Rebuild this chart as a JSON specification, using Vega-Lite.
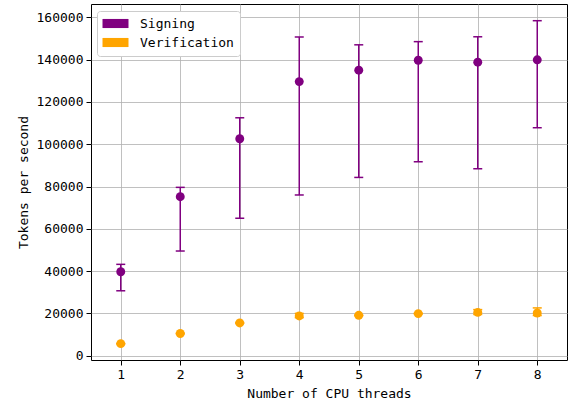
{
  "$schema": "https://vega.github.io/schema/vega-lite/v6.json",
  "width": 476,
  "height": 356,
  "autosize": {"type": "none"},
  "padding": {"left": 91, "top": 4, "right": 2, "bottom": 47},
  "config": {
    "font": "DejaVu Sans Mono",
    "view": {"stroke": "#000000", "strokeWidth": 1},
    "axis": {
      "domain": false,
      "tickColor": "#000000",
      "tickSize": 5,
      "tickWidth": 1,
      "labelFontSize": 13,
      "labelColor": "#000000",
      "labelPadding": 3,
      "titleFontSize": 13,
      "titleColor": "#000000",
      "titleFontWeight": "normal",
      "titlePadding": 6,
      "gridColor": "#b0b0b0",
      "gridOpacity": 0.8,
      "gridWidth": 1
    }
  },
  "data": {
    "values": [
      {"threads": 1, "series": "Signing", "value": 39700, "lower": 30700, "upper": 43200},
      {"threads": 2, "series": "Signing", "value": 75200, "lower": 49500, "upper": 79600},
      {"threads": 3, "series": "Signing", "value": 102600, "lower": 65000, "upper": 112500},
      {"threads": 4, "series": "Signing", "value": 129600, "lower": 76000, "upper": 150700},
      {"threads": 5, "series": "Signing", "value": 135000, "lower": 84300, "upper": 147000},
      {"threads": 6, "series": "Signing", "value": 139700, "lower": 91700, "upper": 148500},
      {"threads": 7, "series": "Signing", "value": 138800, "lower": 88400, "upper": 150800},
      {"threads": 8, "series": "Signing", "value": 139900, "lower": 107800, "upper": 158400},
      {"threads": 1, "series": "Verification", "value": 5700, "lower": 5600, "upper": 5800},
      {"threads": 2, "series": "Verification", "value": 10500, "lower": 10300, "upper": 10700},
      {"threads": 3, "series": "Verification", "value": 15500, "lower": 15300, "upper": 15700},
      {"threads": 4, "series": "Verification", "value": 18800, "lower": 18000, "upper": 20000},
      {"threads": 5, "series": "Verification", "value": 19100, "lower": 18900, "upper": 19300},
      {"threads": 6, "series": "Verification", "value": 19900, "lower": 19700, "upper": 20100},
      {"threads": 7, "series": "Verification", "value": 20500, "lower": 19500, "upper": 21800},
      {"threads": 8, "series": "Verification", "value": 20200, "lower": 19000, "upper": 22600}
    ]
  },
  "encoding": {
    "x": {
      "field": "threads",
      "type": "quantitative",
      "scale": {"domain": [0.5, 8.5], "nice": false, "zero": false},
      "axis": {"values": [1, 2, 3, 4, 5, 6, 7, 8], "title": "Number of CPU threads", "format": "d"}
    },
    "color": {
      "field": "series",
      "type": "nominal",
      "scale": {"domain": ["Signing", "Verification"], "range": ["#800080", "#FFA500"]},
      "legend": {
        "title": null,
        "orient": "none",
        "legendX": 6,
        "legendY": 7,
        "padding": 6,
        "strokeColor": "#cccccc",
        "fillColor": "#ffffff",
        "cornerRadius": 3,
        "labelFontSize": 13,
        "labelColor": "#000000",
        "labelFont": "DejaVu Sans Mono",
        "symbolType": "M-2,-0.7L2,-0.7L2,0.7L-2,0.7Z",
        "symbolSize": 169,
        "symbolStrokeWidth": 0,
        "symbolOpacity": 1,
        "symbolOffset": 6,
        "labelOffset": 18,
        "rowPadding": 5
      }
    }
  },
  "layer": [
    {
      "mark": {"type": "rule", "strokeWidth": 1.5},
      "encoding": {
        "y": {"field": "lower", "type": "quantitative", "scale": {"domain": [-2030, 166300], "nice": false, "zero": false}, "axis": {"values": [0, 20000, 40000, 60000, 80000, 100000, 120000, 140000, 160000], "format": "d", "title": "Tokens per second"}},
        "y2": {"field": "upper"}
      }
    },
    {
      "mark": {"type": "tick", "orient": "horizontal", "size": 9, "thickness": 1.5, "opacity": 1},
      "encoding": {
        "y": {"field": "lower", "type": "quantitative", "scale": {"domain": [-2030, 166300], "nice": false, "zero": false}, "axis": {"values": [0, 20000, 40000, 60000, 80000, 100000, 120000, 140000, 160000], "format": "d", "title": "Tokens per second"}}
      }
    },
    {
      "mark": {"type": "tick", "orient": "horizontal", "size": 9, "thickness": 1.5, "opacity": 1},
      "encoding": {
        "y": {"field": "upper", "type": "quantitative", "scale": {"domain": [-2030, 166300], "nice": false, "zero": false}, "axis": {"values": [0, 20000, 40000, 60000, 80000, 100000, 120000, 140000, 160000], "format": "d", "title": "Tokens per second"}}
      }
    },
    {
      "mark": {"type": "point", "filled": true, "size": 80, "opacity": 1},
      "encoding": {
        "y": {"field": "value", "type": "quantitative", "scale": {"domain": [-2030, 166300], "nice": false, "zero": false}, "axis": {"values": [0, 20000, 40000, 60000, 80000, 100000, 120000, 140000, 160000], "format": "d", "title": "Tokens per second"}}
      }
    }
  ]
}
